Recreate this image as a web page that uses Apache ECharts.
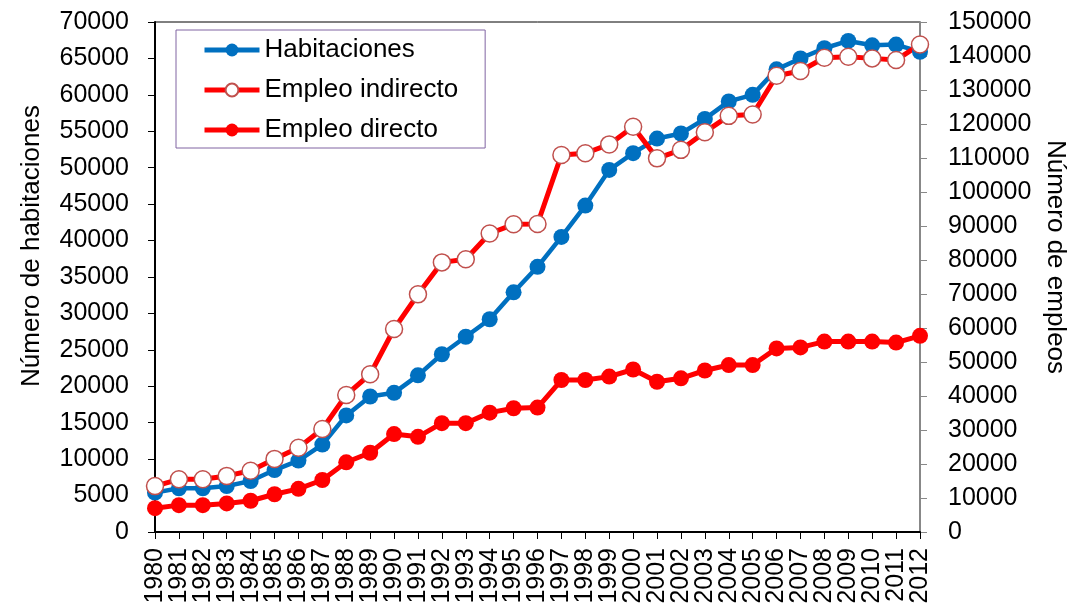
<!DOCTYPE html>
<html>
<head>
<meta charset="utf-8">
<script src="https://cdn.jsdelivr.net/npm/echarts@6/dist/echarts.min.js"></script>
<style>
  html, body { margin: 0; padding: 0; background: #fff; }
  #chart { width: 1071px; height: 606px; }
</style>
</head>
<body>
<div id="chart"></div>
<script>
// Years on the category axis
const years = ['1980', '1981', '1982', '1983', '1984', '1985', '1986', '1987', '1988', '1989',
  '1990', '1991', '1992', '1993', '1994', '1995', '1996', '1997', '1998', '1999',
  '2000', '2001', '2002', '2003', '2004', '2005', '2006', '2007', '2008', '2009',
  '2010', '2011', '2012'];

// Left axis: number of rooms
const habitaciones = [5400, 6000, 6000, 6300, 7000, 8500, 9800, 12000, 16000, 18600,
  19100, 21500, 24400, 26800, 29200, 32900, 36400, 40500, 44800, 49700,
  52000, 54000, 54700, 56700, 59100, 60000, 63500, 65000, 66400, 67400,
  66800, 66900, 65900];

// Right axis: jobs
const empleoIndirecto = [13500, 15500, 15500, 16500, 18000, 21500, 24800, 30300, 40300, 46400,
  59700, 69900, 79300, 80200, 87800, 90500, 90600, 110900, 111400, 114000,
  119200, 109900, 112400, 117600, 122400, 122800, 134200, 135600, 139500, 139800,
  139300, 138800, 143400];

const empleoDirecto = [7000, 7900, 7900, 8400, 9200, 11100, 12700, 15300, 20500, 23300,
  28800, 28000, 32000, 32000, 35100, 36400, 36600, 44700, 44700, 45700,
  47800, 44200, 45200, 47500, 49100, 49100, 54000, 54300, 56000, 56000,
  56000, 55700, 57700];

const font = 'Arial, "Liberation Sans", sans-serif';
const plain = v => String(v);

const chart = echarts.init(document.getElementById('chart'));

const option = {
  animation: false,
  textStyle: { fontFamily: font },
  grid: {
    left: 155,
    right: 151,
    top: 22,
    bottom: 74,
    outerBoundsMode: 'none',
    containLabel: false,
    show: true,
    borderColor: '#000',
    borderWidth: 1
  },
  legend: {
    orient: 'vertical',
    left: 176,
    top: 30,
    padding: [7, 27, 5, 26],
    itemGap: 14,
    itemWidth: 55,
    itemHeight: 16,
    borderColor: '#8064a2',
    borderWidth: 1,
    backgroundColor: '#fff',
    lineStyle: { width: 5 },
    textStyle: { fontSize: 26, color: '#000', fontFamily: font },
    data: ['Habitaciones', 'Empleo indirecto', 'Empleo directo']
  },
  xAxis: {
    type: 'category',
    data: years,
    boundaryGap: false,
    axisLine: { lineStyle: { color: '#000', width: 2 } },
    axisTick: { length: 7, lineStyle: { color: '#000', width: 1 } },
    axisLabel: {
      interval: 0,
      rotate: 90,
      margin: 16,
      fontSize: 25,
      color: '#000',
      fontFamily: font
    }
  },
  yAxis: [
    {
      type: 'value',
      min: 0,
      max: 70000,
      interval: 5000,
      name: 'Número de habitaciones',
      nameLocation: 'middle',
      nameGap: 110,
      nameTextStyle: { fontSize: 26, color: '#000', fontFamily: font, padding: [0, 0, 0, 62] },
      axisLine: { show: true, lineStyle: { color: '#000', width: 2 } },
      axisTick: { show: true, length: 7, lineStyle: { color: '#000' } },
      axisLabel: { margin: 26, fontSize: 25, color: '#000', fontFamily: font, formatter: plain },
      splitLine: { show: false }
    },
    {
      type: 'value',
      position: 'right',
      min: 0,
      max: 150000,
      interval: 10000,
      name: 'Número de empleos',
      nameLocation: 'middle',
      nameRotate: -90,
      nameGap: 92,
      nameTextStyle: { fontSize: 26, color: '#000', fontFamily: font, padding: [0, 40, 0, 0] },
      axisLine: { show: true, lineStyle: { color: '#888', width: 2 } },
      axisTick: { show: true, length: 7, lineStyle: { color: '#888' } },
      axisLabel: { margin: 28, fontSize: 25, color: '#000', fontFamily: font, formatter: plain },
      splitLine: { show: false }
    }
  ],
  series: [
    {
      name: 'Habitaciones',
      type: 'line',
      yAxisIndex: 0,
      data: habitaciones,
      symbol: 'circle',
      symbolSize: 16,
      color: '#0070c0',
      lineStyle: { width: 4.5, color: '#0070c0' },
      itemStyle: { color: '#0070c0' }
    },
    {
      name: 'Empleo indirecto',
      type: 'line',
      yAxisIndex: 1,
      data: empleoIndirecto,
      symbol: 'circle',
      symbolSize: 17,
      color: '#ff0000',
      lineStyle: { width: 5, color: '#ff0000' },
      itemStyle: { color: '#fff', borderColor: '#c0504d', borderWidth: 1.5 }
    },
    {
      name: 'Empleo directo',
      type: 'line',
      yAxisIndex: 1,
      data: empleoDirecto,
      symbol: 'circle',
      symbolSize: 16,
      color: '#ff0000',
      lineStyle: { width: 5, color: '#ff0000' },
      itemStyle: { color: '#ff0000' }
    }
  ]
};

chart.setOption(option);
</script>
</body>
</html>
